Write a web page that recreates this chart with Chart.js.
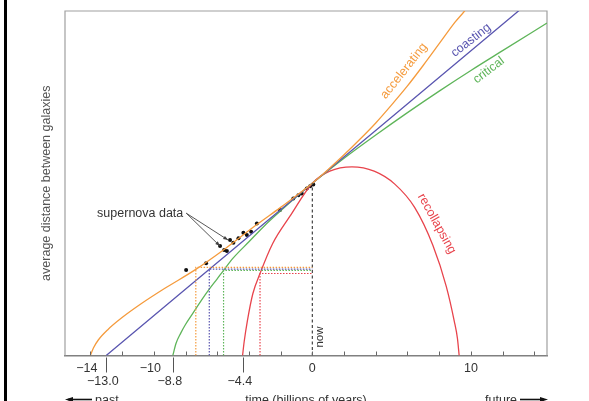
<!DOCTYPE html>
<html><head><meta charset="utf-8">
<script src="https://cdn.jsdelivr.net/npm/chart.js@4/dist/chart.umd.min.js"></script>
<style>
html,body{margin:0;padding:0;background:#fff;}
#wrap{position:relative;width:589px;height:401px;overflow:hidden;background:#fff;}
#bar{position:absolute;left:4px;top:0;width:3px;height:401px;background:#000;}
canvas{position:absolute;left:0;top:0;}
</style></head><body>
<div id="wrap"><canvas id="c" width="589" height="401"></canvas><div id="bar"></div></div>
<script>
// ---- data (time in billions of years, distance relative to today) ----
const accelerating = [[-14,0],[-13.8,0.045],[-13.5,0.09],[-12.9,0.15],[-12,0.22],[-10.8,0.3],[-9.3,0.39],[-7.35,0.5],[-5.5,0.62],[-3.5,0.76],[-2,0.86],[0,1],[1,1.08],[2,1.165],[3,1.255],[4,1.35],[5,1.455],[6,1.565],[7,1.685],[8,1.81],[9,1.935],[9.6,2.0],[10.5,2.12]];
const coasting = [[-13,0],[0,1],[13,2],[14.8,2.14]];
const critical = [[-8.8,0],[-8.6,0.07],[-8.3,0.13],[-8,0.18],[-7.5,0.25],[-7,0.32],[-6.5,0.385],[-6,0.445],[-5.6,0.494],[-5,0.565],[-4,0.66],[-3,0.755],[-2,0.84],[-1,0.922],[0,1],[2,1.145],[4,1.28],[6,1.41],[8,1.535],[10,1.655],[12,1.77],[14.8,1.93]];
const recollapsing = [[-4.4,0],[-4.3,0.08],[-4.1,0.2],[-3.75,0.36],[-3.3,0.476],[-2.5,0.65],[-1.4,0.81],[0,1],[1.1,1.07],[2.5,1.095],[3.9,1.07],[5.2,0.995],[6.45,0.86],[7.6,0.64],[8.45,0.4],[8.95,0.2],[9.15,0.1],[9.26,0]];
const halfAccel = [[-7.35,0],[-7.35,0.512],[0,0.512]];
const halfCoast = [[-6.5,0],[-6.5,0.502],[0,0.502]];
const halfCrit = [[-5.6,0],[-5.6,0.494],[0,0.494]];
const halfRecol = [[-3.3,0],[-3.3,0.476],[0,0.476]];
const nowLine = [[0,0],[0,1]];
const supernovaT = [-7.96,-6.70,-5.82,-5.56,-5.39,-5.19,-4.98,-4.66,-4.35,-4.13,-3.86,-3.50,-2.04,-1.20,-0.88,-0.67,-0.35,-0.14,0.06];
const supernovaY = [0.496,0.535,0.635,0.612,0.606,0.670,0.654,0.680,0.712,0.699,0.718,0.767,0.844,0.912,0.931,0.941,0.970,0.983,0.993];
const tickValues = [-14,-12,-10,-8,-6,-4,-2,0,2,4,6,8,10,12,14];
const tickLabels = {"-14":"−14","-10":"−10","0":"0","10":"10"};
const markerValues = [-13.0,-8.8,-4.4];
const markerLabels = ["−13.0","−8.8","−4.4"];

// ---- styles ----
const C = {orange:'#F59B3D', blue:'#5A56B0', green:'#5FB55A', red:'#E8444C', black:'#222'};
const FONT = '"Liberation Sans", Arial, Helvetica, sans-serif';
Chart.defaults.font.family = FONT;

const toXY = a => a.map(p => ({x:p[0], y:p[1]}));
const curve = (data, color) => ({data:toXY(data), showLine:true, borderColor:color, borderWidth:1.3, pointRadius:0, cubicInterpolationMode:'monotone', fill:false});
const guide = (data, color, dash) => ({data:toXY(data), showLine:true, borderColor:color, borderWidth:1.2, borderDash:dash, pointRadius:0, tension:0, fill:false});

const labelsCfg = [
  {text:'accelerating', t:5.78, y:1.652, ang:-51.6, color:C.orange},
  {text:'coasting', t:10.0, y:1.83, ang:-38, color:C.blue},
  {text:'critical', t:11.13, y:1.656, ang:-37, color:C.green},
  {text:'recollapsing', t:7.85, y:0.765, ang:61, color:C.red}
];

function txt(ctx, s, px, py, ang, color, size, align){
  ctx.save(); ctx.translate(px, py); ctx.rotate(ang*Math.PI/180);
  ctx.fillStyle = color; ctx.font = size + 'px ' + FONT;
  ctx.textAlign = align || 'center'; ctx.textBaseline = 'middle';
  ctx.fillText(s, 0, 0); ctx.restore();
}
function arrowHead(ctx, x, y, dir){
  ctx.beginPath(); ctx.moveTo(x, y); ctx.lineTo(x - dir*8, y - 2.6); ctx.lineTo(x - dir*8, y + 2.6); ctx.closePath(); ctx.fill();
}

const deco = {
  id:'deco',
  beforeDatasetsDraw(chart){
    const {ctx, chartArea:a} = chart;
    ctx.save(); ctx.strokeStyle = '#a0a0a0'; ctx.lineWidth = 1.2;
    ctx.beginPath(); ctx.moveTo(a.left, a.bottom); ctx.lineTo(a.left, a.top); ctx.lineTo(a.right, a.top); ctx.lineTo(a.right, a.bottom); ctx.stroke();
    ctx.restore();
  },
  afterDatasetsDraw(chart){
    const {ctx, chartArea:a, scales:{x, y}} = chart;
    ctx.save();
    // inside tick marks
    ctx.strokeStyle = '#666'; ctx.lineWidth = 1;
    tickValues.forEach(v => { const px = Math.round(x.getPixelForValue(v)) + 0.5; ctx.beginPath(); ctx.moveTo(px, a.bottom); ctx.lineTo(px, a.bottom - 4); ctx.stroke(); });
    // marker ticks below axis
    ctx.font = '12.5px ' + FONT;
    const mw = ctx.measureText('−').width;
    markerValues.forEach((v, i) => {
      const px = Math.round(x.getPixelForValue(v)) + 0.5;
      ctx.strokeStyle = '#555'; ctx.beginPath(); ctx.moveTo(px, a.bottom + 2); ctx.lineTo(px, a.bottom + 17); ctx.stroke();
      txt(ctx, markerLabels[i], px - mw/2, a.bottom + 26, 0, '#333', 12.5);
    });
    // curve labels
    labelsCfg.forEach(l => txt(ctx, l.text, x.getPixelForValue(l.t), y.getPixelForValue(l.y), l.ang, l.color, 12.5));
    // now
    txt(ctx, 'now', x.getPixelForValue(0.45), y.getPixelForValue(0.107), -90, '#333', 11.5);
    // supernova annotation
    const sx = x.getPixelForValue(-7.95), sy = y.getPixelForValue(0.826);
    txt(ctx, 'supernova data', sx - 3, sy, 0, '#333', 12.5, 'right');
    ctx.strokeStyle = '#444'; ctx.fillStyle = '#444'; ctx.lineWidth = 0.9;
    [[-5.82,0.635],[-5.31,0.67]].forEach(p => {
      const ex = x.getPixelForValue(p[0]), ey = y.getPixelForValue(p[1]);
      ctx.beginPath(); ctx.moveTo(sx, sy); ctx.lineTo(ex, ey); ctx.stroke();
      const ang = Math.atan2(ey - sy, ex - sx);
      ctx.save(); ctx.translate(ex, ey); ctx.rotate(ang); ctx.beginPath(); ctx.moveTo(0,0); ctx.lineTo(-5,-1.8); ctx.lineTo(-5,1.8); ctx.closePath(); ctx.fill(); ctx.restore();
    });
    // y axis title
    txt(ctx, 'average distance between galaxies', 47, (a.top + a.bottom)/2, -90, '#555', 12.5);
    // bottom texts
    const by = 401;
    ctx.fillStyle = '#333'; ctx.strokeStyle = '#111'; ctx.lineWidth = 1.6;
    txt(ctx, 'time (billions of years)', (a.left + a.right)/2, by, 0, '#333', 12.5);
    txt(ctx, 'past', 95, by, 0, '#333', 12.5, 'left');
    ctx.beginPath(); ctx.moveTo(68, 399.5); ctx.lineTo(92, 399.5); ctx.stroke();
    ctx.fillStyle = '#111'; arrowHead(ctx, 65, 399.5, -1);
    txt(ctx, 'future', 517, by, 0, '#333', 12.5, 'right');
    ctx.beginPath(); ctx.moveTo(520, 399.5); ctx.lineTo(544, 399.5); ctx.stroke();
    ctx.fillStyle = '#111'; arrowHead(ctx, 548, 399.5, 1);
    ctx.restore();
  }
};

new Chart(document.getElementById('c'), {
  type:'scatter',
  data:{datasets:[
    guide(halfAccel, C.orange, [1.5,1.5]),
    guide(halfCoast, C.blue, [1.5,1.5]),
    guide(halfCrit, C.green, [1.5,1.5]),
    guide(halfRecol, C.red, [1.5,1.5]),
    guide(nowLine, '#444', [3,2.5]),
    curve(accelerating, C.orange),
    curve(coasting, C.blue),
    curve(critical, C.green),
    curve(recollapsing, C.red),
    {data:supernovaT.map((t,i)=>({x:t, y:supernovaY[i]})), showLine:false, pointRadius:2, pointBackgroundColor:'#111', pointBorderWidth:0}
  ]},
  options:{
    responsive:false, animation:false, devicePixelRatio:1,
    layout:{padding:{left:65, right:42, top:11, bottom:0}},
    plugins:{legend:{display:false}, tooltip:{enabled:false}},
    scales:{
      x:{type:'linear', min:-15.6, max:14.8,
        afterBuildTicks: s => { s.ticks = tickValues.map(v => ({value:v})); },
        afterFit: s => { s.height = 45.5; },
        grid:{display:false, drawTicks:false},
        border:{display:true, color:'#808080', width:1.5},
        ticks:{autoSkip:false, maxRotation:0, padding:6, color:'#333', font:{size:12.5},
          callback: v => { const l = tickLabels[String(v)]; return l === undefined ? '' : (v < 0 ? l + '\u2007' : l); }}
      },
      y:{type:'linear', min:0, max:2, display:false}
    }
  },
  plugins:[deco]
});
</script>
</body></html>
